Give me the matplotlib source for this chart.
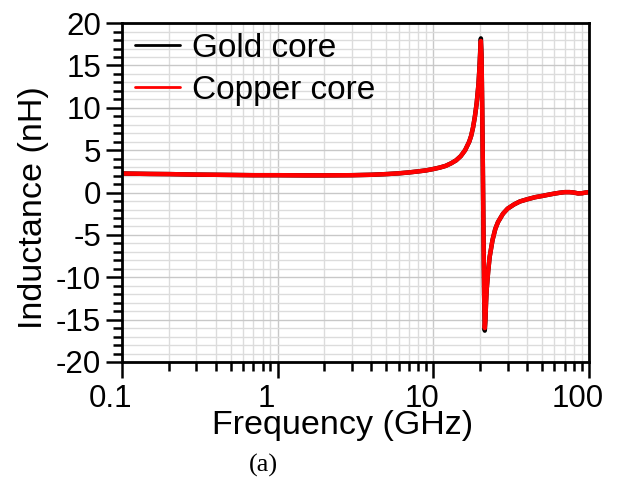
import matplotlib
matplotlib.use("Agg")
import matplotlib.pyplot as plt
from matplotlib.ticker import MultipleLocator, LogLocator, FixedLocator, FixedFormatter
from matplotlib.transforms import ScaledTranslation

plt.rcParams['font.family'] = ['Liberation Sans', 'DejaVu Sans']
plt.rcParams['axes.unicode_minus'] = False

# frequency (GHz) and inductance (nH)
freq = [0.1, 0.15, 0.2, 0.3, 0.5, 0.7, 1, 1.5, 2, 3, 4, 5, 6, 7, 8, 9, 10,
        11, 12, 13, 14, 15, 16, 17, 17.5, 18, 18.5, 19, 19.5, 19.8, 20.0,
        20.2, 20.4, 20.6, 20.8, 21.0, 21.2, 21.4, 21.6, 21.8, 22.0, 22.5,
        23, 24, 25, 26, 28, 30, 33, 36, 40, 45, 50, 55, 60, 65, 70, 75, 80,
        85, 90, 95, 100]
copper = [2.25, 2.2, 2.18, 2.12, 2.08, 2.05, 2.05, 2.03, 2.03, 2.05, 2.1,
          2.18, 2.27, 2.38, 2.5, 2.62, 2.78, 2.95, 3.15, 3.45, 3.8, 4.3, 5.0,
          6.0, 6.7, 7.7, 9.0, 10.6, 12.8, 14.8, 16.5, 17.9, 16.0, 10.0, 3.0,
          -5.0, -12.0, -16.0, -15.0, -13.0, -11.5, -9.3, -7.6, -5.6, -4.3,
          -3.5, -2.5, -1.9, -1.4, -1.05, -0.8, -0.55, -0.4, -0.25, -0.12,
          -0.02, 0.05, 0.05, 0.0, -0.1, -0.08, 0.0, 0.05]
gold = [2.25, 2.2, 2.18, 2.12, 2.08, 2.05, 2.05, 2.03, 2.03, 2.05, 2.1,
        2.18, 2.27, 2.38, 2.5, 2.62, 2.78, 2.95, 3.15, 3.45, 3.8, 4.3, 5.0,
        6.0, 6.7, 7.7, 9.0, 10.6, 12.8, 14.9, 16.7, 18.2, 16.2, 10.0, 3.0,
        -5.0, -12.2, -16.3, -15.1, -13.0, -11.5, -9.3, -7.6, -5.6, -4.3,
        -3.5, -2.5, -1.9, -1.4, -1.05, -0.8, -0.55, -0.4, -0.25, -0.12,
        -0.02, 0.05, 0.05, 0.0, -0.1, -0.08, 0.0, 0.05]

xticks = [0.1, 1, 10, 100]
xticklabels = ['0.1', '1', '10', '100']

fig = plt.figure(figsize=(6.22, 4.82), dpi=100)
ax = fig.add_axes([0.196, 0.249, 0.751, 0.703])

ax.plot(freq, gold, color='black', lw=3.2, solid_capstyle='round',
        solid_joinstyle='round', label='Gold core')
ax.plot(freq, copper, color='#ff0000', lw=3.2, solid_capstyle='round',
        solid_joinstyle='round', label='Copper core')

ax.set_xscale('log')
ax.set_xlim(0.1, 100)
ax.set_ylim(-20, 20)
ax.xaxis.set_major_locator(FixedLocator(xticks))
ax.xaxis.set_major_formatter(FixedFormatter(xticklabels))
ax.xaxis.set_minor_locator(LogLocator(base=10, subs=range(2, 10)))
ax.yaxis.set_major_locator(MultipleLocator(5))
ax.yaxis.set_minor_locator(MultipleLocator(1))

ax.grid(which='major', color='#c8c8c8', lw=1.0)
ax.grid(which='minor', color='#dcdcdc', lw=1.0)
ax.set_axisbelow(True)

for s in ax.spines.values():
    s.set_linewidth(2.0)
ax.tick_params(which='major', direction='out', length=11.5, width=1.8,
               labelsize=22.5, pad=3.5)
ax.tick_params(which='minor', direction='out', length=6.5, width=1.8)
ax.tick_params(axis='x', which='major', pad=4.5)

# x tick labels sit a little left of their ticks in the original
shift = ScaledTranslation(-0.115, 0, fig.dpi_scale_trans)
for lbl in ax.get_xticklabels():
    lbl.set_transform(lbl.get_transform() + shift)

ax.set_xlabel('Frequency (GHz)', fontsize=24.5)
ax.set_ylabel('Inductance (nH)', fontsize=24.5)
ax.xaxis.set_label_coords(0.472, -0.143)
ax.yaxis.set_label_coords(-0.156, 0.455)

leg = ax.legend(loc='upper left', frameon=False, fontsize=24,
                handlelength=1.35, handletextpad=0.35, labelspacing=0.33,
                borderaxespad=0.0, bbox_to_anchor=(0.0, 1.01))
for line in leg.get_lines():
    line.set_linewidth(2.0)

fig.text(0.424, 0.035, '(a)', fontsize=19, family='Liberation Serif',
         ha='center', va='center')

fig.savefig('out.png', dpi=100)
